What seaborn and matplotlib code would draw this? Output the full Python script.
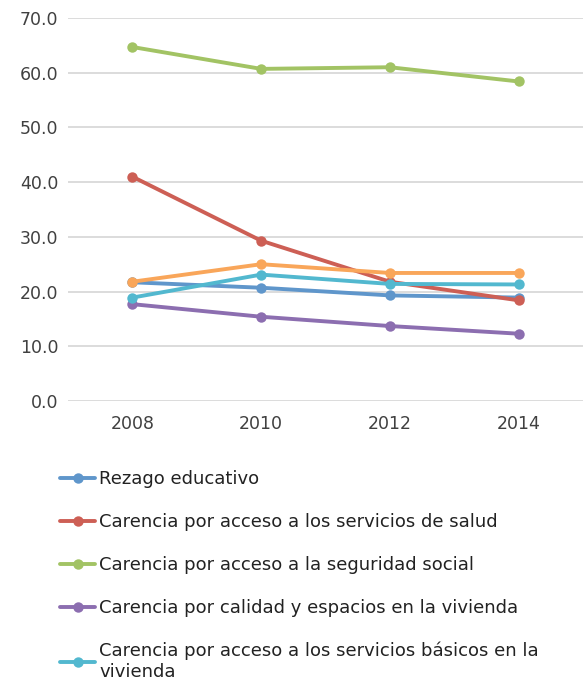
import matplotlib.pyplot as plt
import pandas as pd
import seaborn as sns

years = ["2008", "2010", "2012", "2014"]

rezago_educativo = [21.7, 20.7, 19.3, 18.9]
servicios_salud = [41.0, 29.3, 21.8, 18.4]
seguridad_social = [64.7, 60.7, 61.0, 58.4]
calidad_vivienda = [17.7, 15.4, 13.7, 12.3]
servicios_basicos = [18.9, 23.1, 21.4, 21.3]
alimentacion = [21.8, 25.0, 23.4, 23.4]

series_names = [
    "Rezago educativo",
    "Carencia por acceso a los servicios de salud",
    "Carencia por acceso a la seguridad social",
    "Carencia por calidad y espacios en la vivienda",
    "Carencia por acceso a los servicios básicos en la\nvivienda",
    "Carencia por acceso a la alimentación",
]
series_values = [
    rezago_educativo,
    servicios_salud,
    seguridad_social,
    calidad_vivienda,
    servicios_basicos,
    alimentacion,
]
colors = ["#5f96cb", "#cd5f55", "#a2c364", "#8c6eb0", "#52b8cf", "#f9a65a"]

sns.set_theme(style="white")
plt.rcParams["font.family"] = ["DejaVu Sans"]

fig = plt.figure(figsize=(5.83, 6.82), dpi=100)
ax = fig.add_axes([68 / 583, 1 - 401 / 682, 1 - 68 / 583, (401 - 18) / 682])

for name, values, color in zip(series_names, series_values, colors):
    df = pd.DataFrame({"year": years, "value": values})
    sns.lineplot(data=df, x="year", y="value", sort=False, color=color, linewidth=2.8,
                 marker="o", markersize=7.5, markeredgewidth=0, label=name, ax=ax)

ax.set_xlim(-0.5, 3.5)
ax.set_ylim(0, 70)
ax.set_yticks(range(0, 71, 10))
ax.set_yticklabels([f"{v:.1f}" for v in range(0, 71, 10)])
ax.grid(axis="y", color="#d9d9d9", linewidth=1.3)
ax.set_axisbelow(True)
for s in ax.spines.values():
    s.set_visible(False)
ax.tick_params(axis="both", labelsize=12.5, colors="#404040", length=0)
ax.tick_params(axis="y", pad=7)
ax.tick_params(axis="x", pad=10)
ax.set_xlabel("")
ax.set_ylabel("")

handles, labels = ax.get_legend_handles_labels()
ax.get_legend().remove()
fig.legend(handles[:5], labels[:5], loc="upper left", bbox_to_anchor=(44 / 583, 1 - 454 / 682),
           frameon=False, fontsize=13, handlelength=1.95, handletextpad=0.2,
           labelspacing=1.38, labelcolor="#222222")

fig.savefig("out.png", dpi=100)
